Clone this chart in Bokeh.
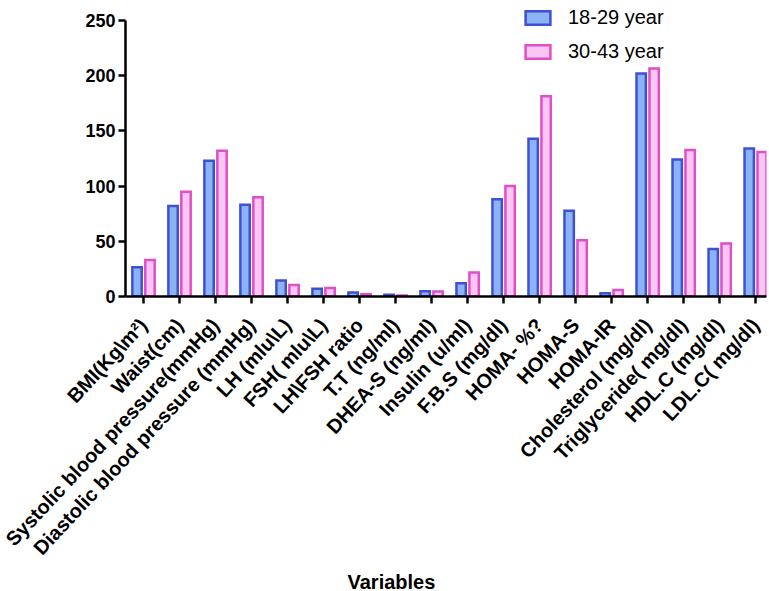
import math
from bokeh.plotting import figure
from bokeh.models import ColumnDataSource, Range1d, FixedTicker, Legend, LegendItem, Title
from bokeh.transform import dodge
from bokeh.embed import file_html
from bokeh.resources import INLINE

categories = ["BMI(Kg\\m\u00b2)", "Waist(cm)", "Systolic blood pressure(mmHg)",
              "Diastolic blood pressure (mmHg)", "LH (mlu\\L)", "FSH( mlu\\L)",
              "LH\\FSH ratio", "T.T (ng/ml)", "DHEA-S (ng/ml)", "Insulin (u/ml)",
              "F.B.S (mg/dl)", "HOMA- %?", "HOMA-S", "HOMA-IR", "Cholesterol (mg/dl)",
              "Triglyceride( mg/dl)", "HDL.C (mg/dl)", "LDL.C( mg/dl)"]
group_18_29 = [26.5, 82, 123, 83, 14.4, 7, 3.6, 1.5, 4.8, 12, 88, 143, 77.6, 3, 202, 124, 43, 134]
group_30_43 = [33, 95, 132, 90, 10.5, 7.8, 2, 0.8, 4.5, 21.7, 100, 181.5, 51, 6, 206.5, 132.7, 48, 131]
series_names = ["18-29 year", "30-43 year"]
y_ticks = [0, 50, 100, 150, 200, 250]
x_title = "Variables"

idx = list(range(len(categories)))
src = ColumnDataSource(dict(x=idx, a=group_18_29, b=group_30_43))

# y range extends a little above 250 so the legend (which sits above the axis top) is not clipped
p = figure(width=769, height=591, output_backend="svg", toolbar_location=None,
           x_range=Range1d(-0.5, 17.3), y_range=Range1d(0, 262.7),
           min_border_left=125, min_border_right=3, min_border_top=6, min_border_bottom=295)
p.outline_line_color = None
p.xgrid.visible = False
p.ygrid.visible = False
p.background_fill_color = "white"

FONT = "Liberation Sans"
r1 = p.vbar(x=dodge("x", -0.18, range=p.x_range), top="a", width=0.26, source=src,
            fill_color="#8DB3F7", line_color="#4050D6", line_width=2.5, line_join="miter")
r2 = p.vbar(x=dodge("x", 0.18, range=p.x_range), top="b", width=0.26, source=src,
            fill_color="#F9C7F1", line_color="#E04EC8", line_width=2.5, line_join="miter")

# axes
p.xaxis.ticker = FixedTicker(ticks=idx)
p.xaxis.major_label_overrides = {i: c for i, c in zip(idx, categories)}
p.xaxis.major_label_orientation = math.radians(47)
p.yaxis.ticker = FixedTicker(ticks=y_ticks)
p.yaxis.bounds = (0, 250)
for ax in (p.xaxis[0], p.yaxis[0]):
    ax.axis_line_width = 2.5
    ax.axis_line_color = "black"
    ax.major_tick_line_width = 2.5
    ax.major_tick_line_color = "black"
    ax.major_tick_out = 7
    ax.major_tick_in = 0
    ax.minor_tick_line_color = None
    ax.major_label_text_font = FONT
    ax.major_label_text_font_style = "bold"
    ax.major_label_text_color = "black"
p.yaxis.major_label_text_font_size = "18px"
p.yaxis.major_label_standoff = 3
p.xaxis.major_label_text_font_size = "20px"
p.xaxis.major_label_standoff = 18
p.xaxis.major_label_text_baseline = "top"

t = Title(text=x_title, align="left", offset=222, text_font=FONT,
          text_font_style="bold", text_font_size="20px", text_color="black", standoff=-2)
p.add_layout(t, "below")

legend = Legend(items=[LegendItem(label=series_names[0], renderers=[r1]),
                       LegendItem(label=series_names[1], renderers=[r2])],
                location=(397, 233), orientation="vertical")
legend.border_line_color = None
legend.background_fill_alpha = 0
legend.padding = 0
legend.margin = 0
legend.spacing = 11
legend.glyph_width = 31
legend.glyph_height = 17
legend.label_height = 20
legend.label_standoff = 15
legend.label_text_font = FONT
legend.label_text_font_size = "20px"
legend.label_text_color = "black"
p.add_layout(legend, "center")

open("out.html", "w").write(file_html(p, INLINE))
